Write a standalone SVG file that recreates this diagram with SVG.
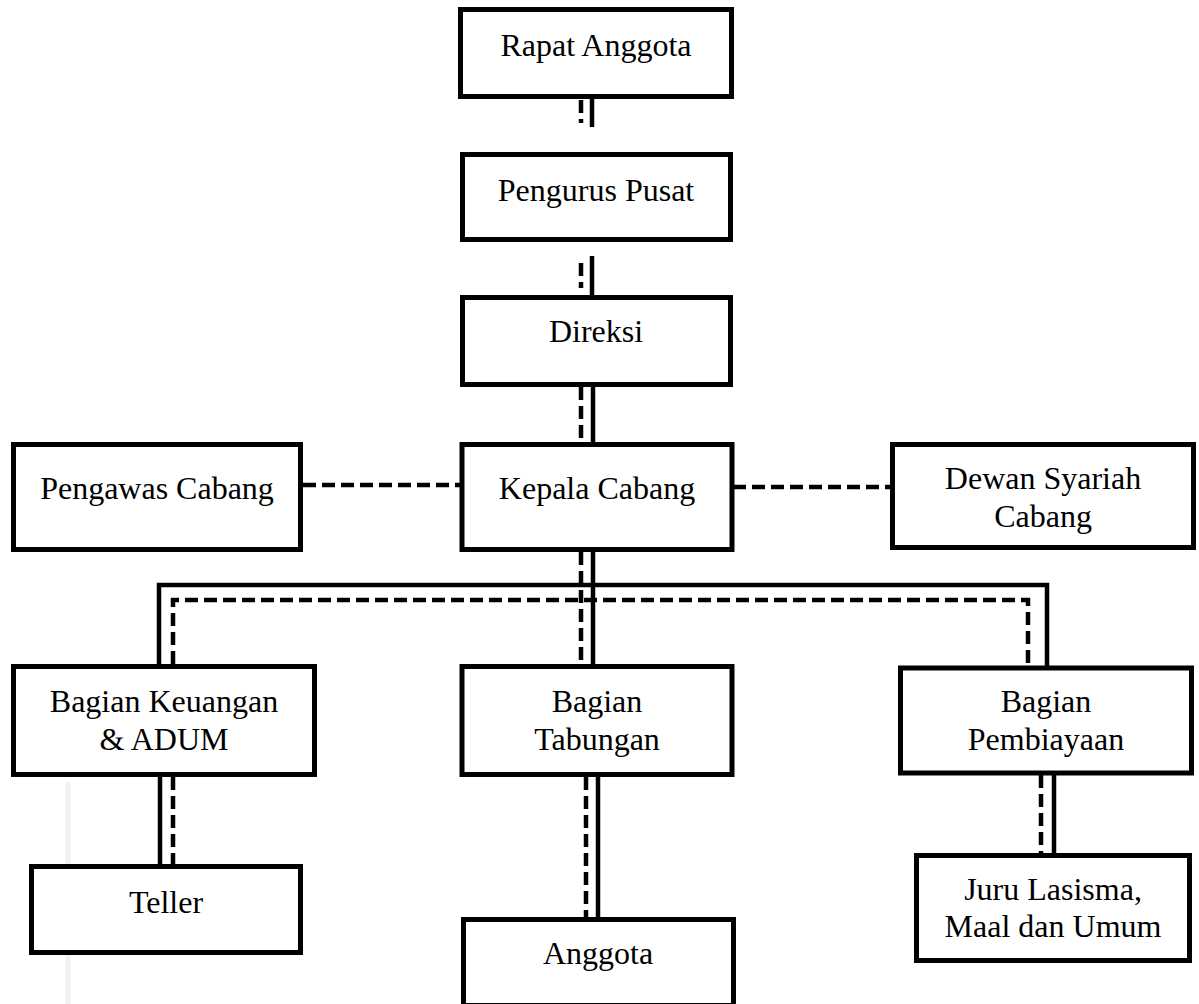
<svg xmlns="http://www.w3.org/2000/svg" width="1199" height="1004" viewBox="0 0 1199 1004">
<style>
.box{fill:#fff;stroke:#000;stroke-width:5}
.t{font-family:"Liberation Serif","Times New Roman",serif;font-size:32px;fill:#000;text-anchor:middle}
.s{stroke:#000;stroke-width:4.5;fill:none}
.d{stroke:#000;stroke-width:4.5;fill:none;stroke-dasharray:13 6}
</style>
<rect width="1199" height="1004" fill="#fff"/>
<line x1="68" y1="782" x2="68" y2="1004" stroke="#eef5ee" stroke-width="5"/>
<g id="connectors">
<line class="s" x1="592" y1="99" x2="592" y2="127"/>
<line class="d" x1="581" y1="100" x2="581" y2="123"/>
<line class="s" x1="592" y1="256" x2="592" y2="295"/>
<line class="d" x1="581" y1="263" x2="581" y2="288"/>
<line class="s" x1="593" y1="387" x2="593" y2="442"/>
<line class="d" x1="581" y1="387" x2="581" y2="442"/>
<line class="d" x1="303" y1="485" x2="460" y2="485"/>
<line class="d" x1="733" y1="487" x2="890" y2="487"/>
<line class="s" x1="593" y1="552" x2="593" y2="665"/>
<line class="d" x1="581" y1="552" x2="581" y2="665"/>
<polyline class="s" points="159,664 159,585 1047,585 1047,666"/>
<polyline class="d" points="173,664 173,600 1028,600 1028,666"/>
<line class="s" x1="160" y1="777" x2="160" y2="864"/>
<line class="d" x1="173" y1="777" x2="173" y2="864"/>
<line class="d" x1="586" y1="777" x2="586" y2="917"/>
<line class="s" x1="598" y1="777" x2="598" y2="917"/>
<line class="d" x1="1041" y1="775" x2="1041" y2="853"/>
<line class="s" x1="1054" y1="775" x2="1054" y2="853"/>
</g>
<g id="rapat-anggota"><rect class="box" x="460.5" y="9.5" width="271" height="87"/><text class="t" x="596" y="56">Rapat Anggota</text></g>
<g id="pengurus-pusat"><rect class="box" x="462.5" y="154.5" width="268" height="85"/><text class="t" x="596" y="201">Pengurus Pusat</text></g>
<g id="direksi"><rect class="box" x="462.5" y="297.5" width="268" height="87"/><text class="t" x="596" y="342">Direksi</text></g>
<g id="pengawas-cabang"><rect class="box" x="13.5" y="444.5" width="287" height="105"/><text class="t" x="157" y="499">Pengawas Cabang</text></g>
<g id="kepala-cabang"><rect class="box" x="462" y="444.5" width="270" height="105"/><text class="t" x="597" y="499">Kepala Cabang</text></g>
<g id="dewan-syariah"><rect class="box" x="892.5" y="444.5" width="301" height="103"/><text class="t" x="1043" y="489">Dewan Syariah</text><text class="t" x="1043" y="527">Cabang</text></g>
<g id="bagian-keuangan"><rect class="box" x="13.5" y="666.5" width="301" height="108"/><text class="t" x="164" y="712">Bagian Keuangan</text><text class="t" x="164" y="750">&amp; ADUM</text></g>
<g id="bagian-tabungan"><rect class="box" x="462" y="666.5" width="270" height="108"/><text class="t" x="597" y="712">Bagian</text><text class="t" x="597" y="750">Tabungan</text></g>
<g id="bagian-pembiayaan"><rect class="box" x="900.5" y="668" width="291" height="105"/><text class="t" x="1046" y="712">Bagian</text><text class="t" x="1046" y="750">Pembiayaan</text></g>
<g id="teller"><rect class="box" x="31.5" y="866.5" width="269" height="86"/><text class="t" x="166" y="913">Teller</text></g>
<g id="anggota"><rect class="box" x="463.5" y="919.5" width="270" height="86"/><text class="t" x="598" y="964">Anggota</text></g>
<g id="juru-lasisma"><rect class="box" x="916.5" y="855.5" width="273" height="105"/><text class="t" x="1053" y="900">Juru Lasisma,</text><text class="t" x="1053" y="937">Maal dan Umum</text></g>
</svg>
